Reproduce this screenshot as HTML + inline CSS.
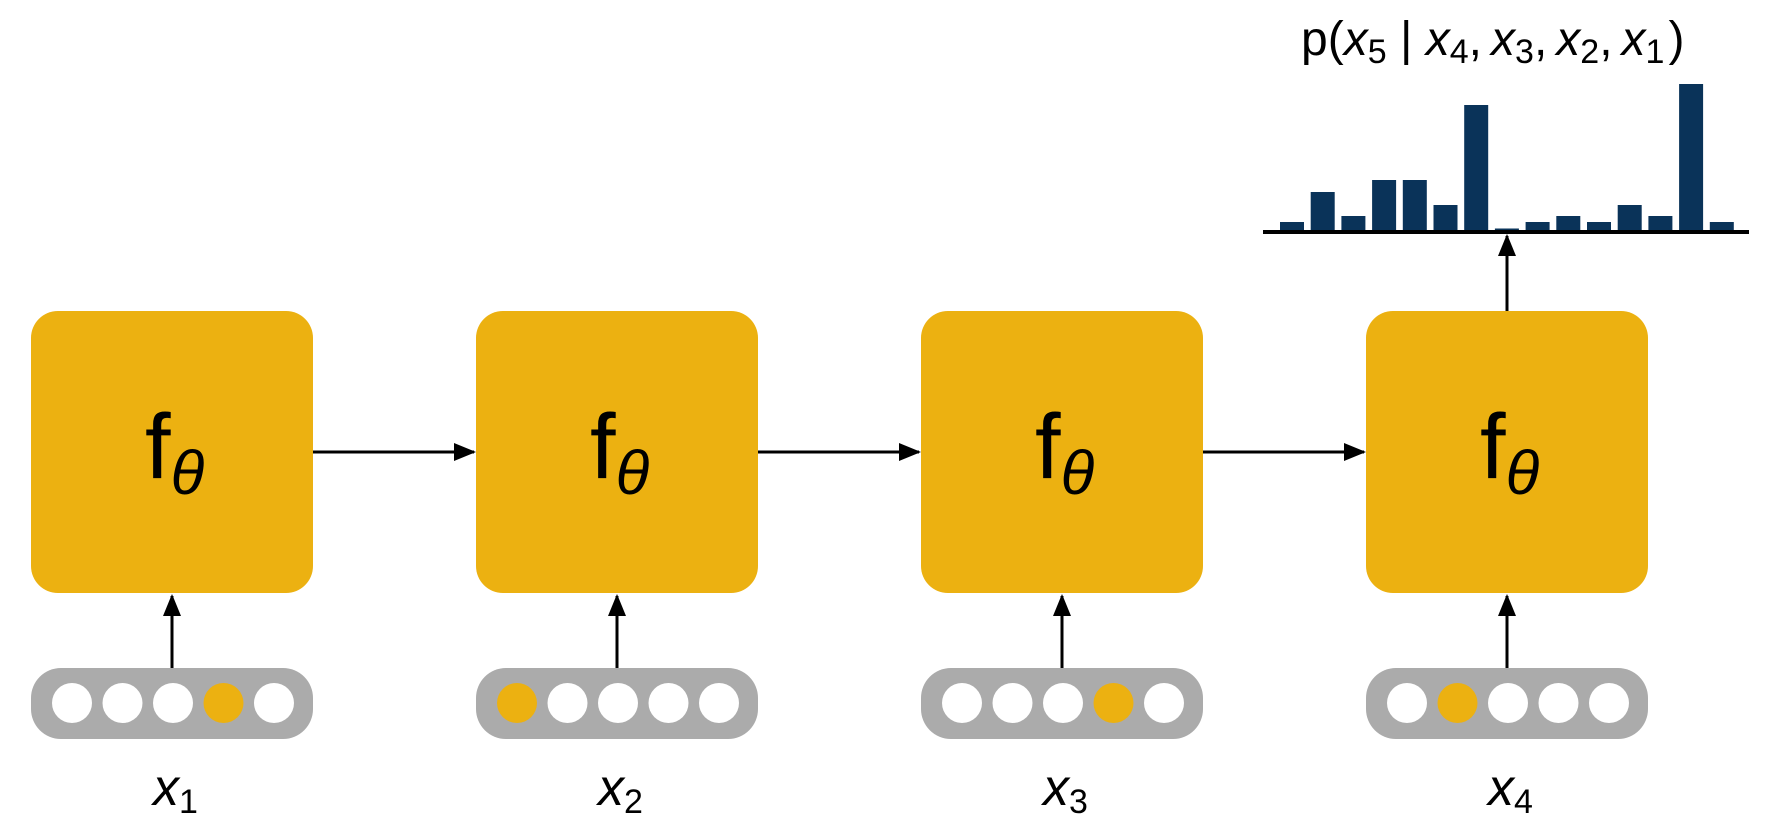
<!DOCTYPE html>
<html><head><meta charset="utf-8"><style>
html,body{margin:0;padding:0;background:#fff;}
svg{display:block;font-family:"Liberation Sans",sans-serif;}
</style></head><body>
<svg id="fig" width="1770" height="836" viewBox="0 0 1770 836">
<defs>
<marker id="ahb" markerWidth="22" markerHeight="18" refX="20" refY="9" orient="auto" markerUnits="userSpaceOnUse" viewBox="0 0 22 18">
<path d="M0,0 L22,9 L0,18 z" fill="#000"/>
</marker>
</defs>
<g id="steps"></g>
<g id="chart"></g>
<text x="1301" y="55" font-size="48">p(<tspan font-style="italic">x</tspan><tspan font-size="34" dy="8">5</tspan><tspan dy="-8"> | </tspan><tspan font-style="italic">x</tspan><tspan font-size="34" dy="8">4</tspan><tspan dy="-8">,</tspan><tspan font-style="italic" dx="9">x</tspan><tspan font-size="34" dy="8">3</tspan><tspan dy="-8">,</tspan><tspan font-style="italic" dx="9">x</tspan><tspan font-size="34" dy="8">2</tspan><tspan dy="-8">,</tspan><tspan font-style="italic" dx="9">x</tspan><tspan font-size="34" dy="8">1</tspan><tspan dy="-8" dx="4">)</tspan></text>
</svg>
<script>
const stepLabels = ["1","2","3","4"];
const activeIndex = [3,0,3,1];
const barValues = [8,38,14,50,50,25,125,1.5,8,14,8,25,14,146,8];

const NS="http://www.w3.org/2000/svg";
function mk(tag,attrs,parent){const e=document.createElementNS(NS,tag);for(const k in attrs)e.setAttribute(k,attrs[k]);parent.appendChild(e);return e;}
const steps=document.getElementById('steps');
const boxX=i=>31+i*445;
stepLabels.forEach((lab,i)=>{
  const x0=boxX(i), cx=x0+141;
  const box=mk('rect',{x:x0,y:311,width:282,height:282,rx:27,fill:'#ECB111'},steps);
  
  
  const t=mk('text',{x:cx-27,y:478,'font-size':92,fill:'#000'},steps);
  
  
  t.innerHTML='f<tspan font-style="italic" font-size="62" dy="16">θ</tspan>';
  const pill=mk('rect',{x:x0,y:668,width:282,height:71,rx:30,fill:'#ABABAB'},steps);
  
  
  for(let k=0;k<5;k++){
    const c=mk('circle',{cx:x0+41+k*50.5,cy:703,r:20,fill:k===activeIndex[i]?'#ECB111':'#fff'},steps);
    
    
  }
  const up=mk('line',{x1:cx,y1:668,x2:cx,y2:596,stroke:'#000','stroke-width':3,'marker-end':'url(#ahb)'},steps);
  
  
  const xl=mk('text',{x:cx-19,y:805,'font-size':52,fill:'#000'},steps);
  
  
  xl.innerHTML='<tspan font-style="italic">x</tspan><tspan font-size="34" dy="8">'+lab+'</tspan>';
  if(i<3){
    const h=mk('line',{x1:x0+282,y1:452,x2:boxX(i+1)-2,y2:452,stroke:'#000','stroke-width':3,'marker-end':'url(#ahb)'},steps);
    
    
  }
});
const outArrow=mk('line',{x1:1507,y1:311,x2:1507,y2:236,stroke:'#000','stroke-width':3,'marker-end':'url(#ahb)'},steps);



const chart=document.getElementById('chart');
const base=230, x0c=1280, pitch=30.7, bw=24;
const xS=i=>x0c+i*pitch;
const yS=v=>base-v;
barValues.forEach((v,i)=>{
  const r=mk('rect',{x:xS(i),y:yS(v),width:bw,height:base-yS(v),fill:'#0A3359'},chart);
  
  
});
const ax=mk('rect',{x:1263,y:230,width:486,height:4,fill:'#000'},chart);


</script>
</body></html>
